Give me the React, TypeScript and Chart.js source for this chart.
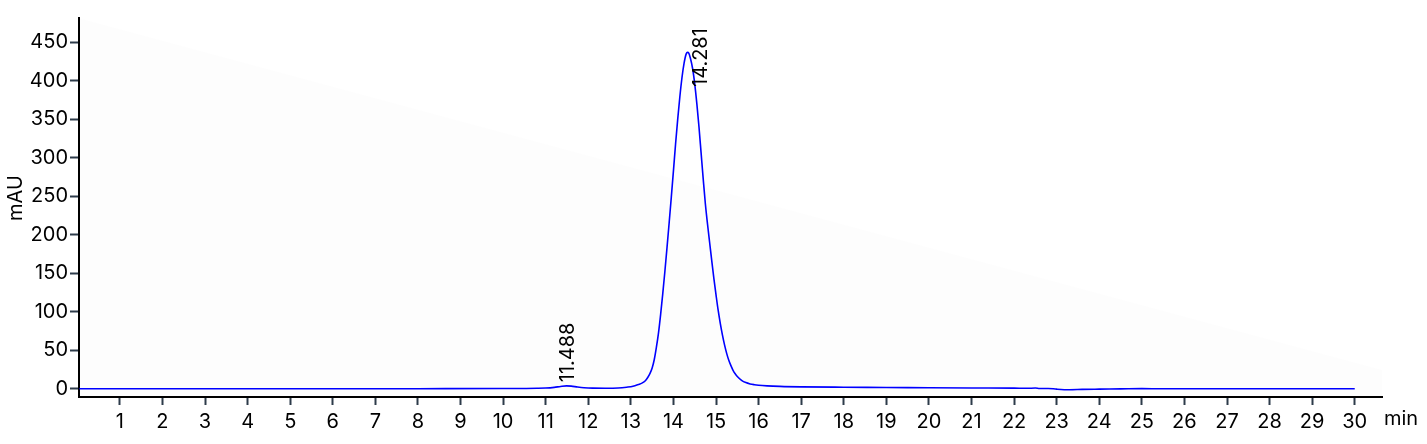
import React, { useEffect, useRef } from "react";
import { Chart, registerables } from "chart.js";

Chart.register(...registerables);

// Retention time (min) and absorbance (mAU)
const times: number[] = [
  0.05, 2, 4, 6, 8, 10, 10.8, 11.0, 11.2, 11.35, 11.49, 11.6, 11.75, 11.9, 12.1, 12.4, 12.7, 12.9,
  13.05, 13.2, 13.25, 13.3, 13.35, 13.4, 13.45, 13.5, 13.55, 13.6, 13.65, 13.7, 13.75, 13.8, 13.85,
  13.9, 13.95, 14.0, 14.05, 14.1, 14.15, 14.2, 14.25, 14.3, 14.33, 14.36, 14.4, 14.45, 14.5, 14.55,
  14.6, 14.65, 14.7, 14.75, 14.8, 14.85, 14.9, 14.95, 15.0, 15.05, 15.1, 15.15, 15.2, 15.25, 15.3,
  15.35, 15.4, 15.45, 15.5, 15.6, 15.7, 15.8, 15.9, 16.0, 16.2, 16.5, 17, 18, 19, 20, 21, 22, 22.3,
  22.5, 22.6, 22.8, 23.0, 23.3, 23.6, 24, 24.5, 25, 25.5, 26, 27, 28, 29, 30,
];
const absorbance: number[] = [
  0, 0, 0, 0, 0.1, 0.3, 0.6, 0.9, 1.8, 3.0, 3.8, 3.4, 2.2, 1.3, 0.8, 0.7, 1.0, 2.0,
  3.2, 6, 7, 8.5, 11, 15, 20, 27, 38, 54, 73, 97, 124, 153, 184,
  216, 249, 283, 318, 350, 379, 404, 423, 435, 437, 436, 429, 416, 396, 370,
  340, 306, 272, 240, 214, 190, 166, 143, 122, 102, 85, 70, 57, 46, 37,
  30, 24, 19.5, 16, 11, 8, 6.3, 5.3, 4.6, 3.8, 3.1, 2.5, 2, 1.7, 1.3, 1, 0.8, 0.6,
  0.9, 0.3, 0.4, -0.5, -1.2, -0.8, -0.5, -0.2, 0.2, 0, 0, 0, 0, 0, 0,
];

const xTicks: number[] = [1, 2, 3, 4, 5, 6, 7, 8, 9, 10, 11, 12, 13, 14, 15, 16, 17, 18, 19, 20, 21, 22, 23, 24, 25, 26, 27, 28, 29, 30];
const yTicks: number[] = [0, 50, 100, 150, 200, 250, 300, 350, 400, 450];

const peakLabels: string[] = ["11.488", "14.281"];
const peakLabelX: number[] = [11.52, 14.65];
const peakLabelY: number[] = [8.5, 392];

const xTitle = "min";
const yTitle = "mAU";

const FONT = "Inter, 'Noto Sans', sans-serif";
const FS = 20;

export default function App() {
  const ref = useRef<HTMLCanvasElement | null>(null);

  useEffect(() => {
    document.body.style.margin = "0";
    const canvas = ref.current;
    if (!canvas) return;

    const extras = {
      id: "extras",
      beforeDatasetsDraw(chart: any) {
        const { ctx, chartArea } = chart;
        ctx.save();
        ctx.fillStyle = "rgba(0,0,0,0.006)";
        ctx.beginPath();
        ctx.moveTo(chartArea.left, chartArea.top);
        ctx.lineTo(chartArea.right, chartArea.top + (chartArea.right - chartArea.left) * 0.27);
        ctx.lineTo(chartArea.right, chartArea.bottom);
        ctx.lineTo(chartArea.left, chartArea.bottom);
        ctx.closePath();
        ctx.fill();
        ctx.restore();
      },
      afterDraw(chart: any) {
        const { ctx, chartArea } = chart;
        const xs = chart.scales.x;
        const ys = chart.scales.y;
        ctx.save();
        ctx.fillStyle = "#000";
        ctx.font = `${FS}px ${FONT}`;
        peakLabels.forEach((lab, i) => {
          const px = xs.getPixelForValue(peakLabelX[i]);
          const py = ys.getPixelForValue(peakLabelY[i]);
          ctx.save();
          ctx.translate(px, py);
          ctx.rotate(-Math.PI / 2);
          ctx.textAlign = "left";
          ctx.textBaseline = "middle";
          ctx.fillText(lab, 0, 0);
          ctx.restore();
        });
        ctx.textAlign = "left";
        ctx.textBaseline = "middle";
        ctx.fillText(xTitle, chartArea.right + 2, 419);
        ctx.save();
        ctx.translate(16, 198);
        ctx.rotate(-Math.PI / 2);
        ctx.textAlign = "center";
        ctx.textBaseline = "middle";
        ctx.fillText(yTitle, 0, 0);
        ctx.restore();
        ctx.restore();
      },
    };

    const chart = new Chart(canvas, {
      type: "line",
      data: {
        datasets: [
          {
            data: times.map((t, i) => ({ x: t, y: absorbance[i] })),
            borderColor: "#0000ff",
            borderWidth: 1.6,
            pointRadius: 0,
            fill: false,
            cubicInterpolationMode: "monotone",
          },
        ],
      },
      options: {
        responsive: false,
        animation: false,
        layout: { padding: { top: 18, right: 45, left: 0, bottom: 0 } },
        plugins: { legend: { display: false }, tooltip: { enabled: false } },
        scales: {
          x: {
            type: "linear",
            min: 0.04,
            max: 30.64,
            afterBuildTicks: (s: any) => {
              s.ticks = xTicks.map((v) => ({ value: v }));
            },
            afterFit: (s: any) => {
              s.height = 47;
            },
            grid: { drawOnChartArea: false, drawTicks: true, tickLength: 8, tickColor: "#2d3b4a", tickWidth: 2 },
            border: { display: true, color: "#000", width: 2 },
            ticks: {
              color: "#000",
              font: { family: FONT, size: FS },
              padding: 5,
              maxRotation: 0,
              autoSkip: false,
              callback: (v: any) => String(v),
            },
          },
          y: {
            type: "linear",
            min: -10.7,
            max: 481.6,
            afterBuildTicks: (s: any) => {
              s.ticks = yTicks.map((v) => ({ value: v }));
            },
            afterFit: (s: any) => {
              s.width = 79;
            },
            grid: { drawOnChartArea: false, drawTicks: true, tickLength: 9, tickColor: "#2d3b4a", tickWidth: 2 },
            border: { display: true, color: "#000", width: 2 },
            ticks: {
              color: "#000",
              font: { family: FONT, size: FS },
              padding: 2,
              autoSkip: false,
              callback: (v: any) => String(v),
            },
          },
        },
      },
      plugins: [extras],
    });

    return () => chart.destroy();
  }, []);

  return (
    <div style={{ width: 1427, height: 444 }}>
      <canvas ref={ref} width={1427} height={444} />
    </div>
  );
}
